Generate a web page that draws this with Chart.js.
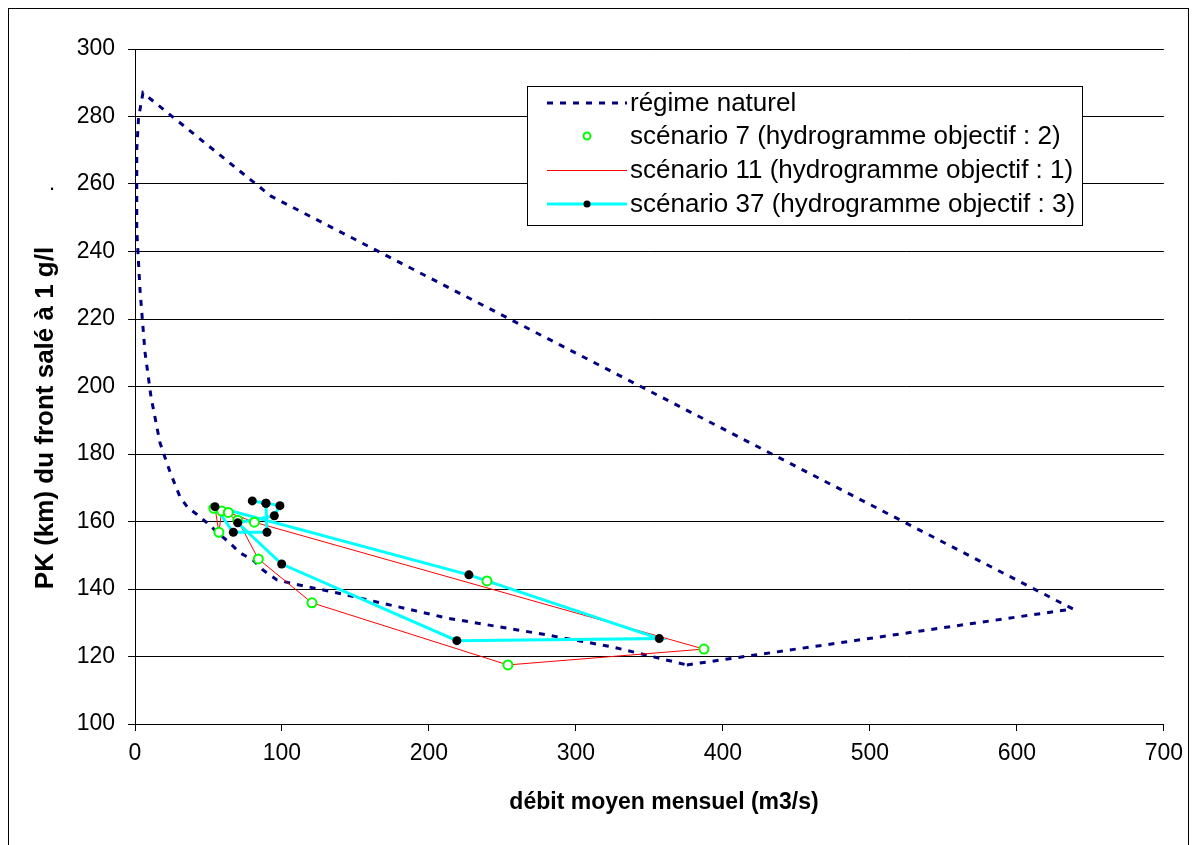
<!DOCTYPE html>
<html>
<head>
<meta charset="utf-8">
<script src="https://cdn.jsdelivr.net/npm/chart.js@4/dist/chart.umd.min.js"></script>
<style>
  html, body { margin: 0; padding: 0; background: #fff; }
  #wrap { width: 1192px; height: 845px; }
</style>
</head>
<body>
<div id="wrap"><canvas id="chart" width="1192" height="845"></canvas></div>
<script>
// régime naturel (boucle)
var naturelX = [375.5, 638.1, 92.5, 5.4, 2.4, 1.2, 1.2, 3.4, 6.8, 10.9, 17.0, 23.8, 30.6, 36.1, 42.2, 49.0, 56.5, 64.6, 71.4, 80.3, 87.1, 96.6, 105.4, 144.2, 212.2, 280.3, 325.2, 375.5];
var naturelY = [117.5, 134.1, 256.4, 287.0, 279.6, 270.1, 246.4, 228.6, 210.2, 196.9, 183.3, 174.7, 167.3, 164.0, 162.1, 159.6, 156.6, 153.6, 150.7, 148.6, 145.6, 142.7, 141.8, 138.2, 131.4, 126.4, 122.8, 117.5];

// scénario 7 (marqueurs seuls)
var sc7X = [53.6, 59.0, 63.5, 69.9, 81.2, 57.1, 83.9, 120.4, 239.5, 387.1, 253.7];
var sc7Y = [163.9, 163.1, 162.7, 160.4, 159.8, 156.8, 148.9, 135.9, 142.4, 122.2, 117.5];

// scénario 11 (trait seul)
var sc11X = [81.2, 387.1, 253.7, 120.4, 83.9, 69.9, 59.0, 57.1, 54.4, 63.5, 81.2];
var sc11Y = [159.8, 122.2, 117.5, 135.9, 148.9, 160.4, 163.1, 156.8, 164.2, 162.7, 159.8];

// scénario 37 (trait + marqueurs)
var sc37X = [79.8, 89.1, 98.6, 94.8, 69.9, 99.8, 219.0, 356.7, 227.2, 54.4, 66.9, 89.8, 89.1];
var sc37Y = [166.1, 165.4, 164.7, 161.7, 159.6, 147.4, 124.7, 125.3, 144.2, 164.4, 156.8, 156.8, 165.4];

var xTicks = [0, 100, 200, 300, 400, 500, 600, 700];
var yTicks = [100, 120, 140, 160, 180, 200, 220, 240, 260, 280, 300];

var seriesNames = [
  "régime naturel",
  "scénario 7 (hydrogramme objectif : 2)",
  "scénario 11 (hydrogramme objectif : 1)",
  "scénario 37 (hydrogramme objectif : 3)"
];

var FONT = "'Liberation Sans', Arial, sans-serif";

function pts(xs, ys) {
  return xs.map(function (x, i) { return { x: x, y: ys[i] }; });
}

var natColor = "#000080", redColor = "#ff0000", cyanColor = "#00ffff", greenColor = "#00ff00";
var natDash = [6, 7];

var decor = {
  id: "decor",
  afterDatasetsDraw: function (chart) {
    var c = chart.ctx;
    c.save();
    // cadre de la légende
    var lx = 527, ly = 86, lw = 555, lh = 139;
    c.fillStyle = "#fff";
    c.fillRect(lx, ly, lw, lh);
    c.strokeStyle = "#000";
    c.lineWidth = 1;
    c.strokeRect(lx + 0.5, ly + 0.5, lw, lh);

    var rows = [103, 136, 170, 204];
    var s0 = 547, s1 = 627, mid = 587;
    c.lineCap = "butt";

    // régime naturel
    c.beginPath();
    c.setLineDash(natDash);
    c.strokeStyle = natColor; c.lineWidth = 3;
    c.moveTo(s0, rows[0]); c.lineTo(s1, rows[0]); c.stroke();
    c.setLineDash([]);

    // scénario 7
    c.beginPath();
    c.arc(mid, rows[1], 3.5, 0, Math.PI * 2);
    c.fillStyle = "#fff"; c.fill();
    c.strokeStyle = greenColor; c.lineWidth = 2; c.stroke();

    // scénario 11
    c.beginPath();
    c.strokeStyle = redColor; c.lineWidth = 1;
    c.moveTo(s0, rows[2] + 0.5); c.lineTo(s1, rows[2] + 0.5); c.stroke();

    // scénario 37
    c.beginPath();
    c.strokeStyle = cyanColor; c.lineWidth = 3;
    c.moveTo(s0, rows[3]); c.lineTo(s1, rows[3]); c.stroke();
    c.beginPath();
    c.arc(mid, rows[3], 3.5, 0, Math.PI * 2);
    c.fillStyle = "#000"; c.fill();

    c.fillStyle = "#000";
    c.font = "26px " + FONT;
    c.textAlign = "left";
    c.textBaseline = "middle";
    seriesNames.forEach(function (t, i) { c.fillText(t, 630, rows[i] + 1); });
    c.restore();
  },
  afterDraw: function (chart) {
    var c = chart.ctx;
    c.save();
    c.strokeStyle = "#000";
    c.lineWidth = 1;
    c.strokeRect(8.5, 8.5, 1180, 900);

    c.fillStyle = "#000";
    c.font = "bold 23px " + FONT;
    c.textAlign = "center";
    c.textBaseline = "middle";
    c.fillText("débit moyen mensuel (m3/s)", 664, 803);

    c.font = "bold 26px " + FONT;
    c.translate(46, 418);
    c.rotate(-Math.PI / 2);
    c.fillText("PK (km) du front salé à 1 g/l", 0, 0);
    c.restore();

    c.save();
    c.fillStyle = "#000";
    c.font = "22px " + FONT;
    c.textAlign = "center";
    c.fillText(".", 52, 190);
    c.restore();
  }
};

var ctx = document.getElementById("chart").getContext("2d");
var chart = new Chart(ctx, {
  type: "scatter",
  data: {
    datasets: [
      {
        label: seriesNames[3] + " pts",
        data: pts(sc37X, sc37Y),
        showLine: false,
        pointRadius: 4.5,
        pointBackgroundColor: "#000",
        pointBorderColor: "#000",
        pointBorderWidth: 0,
        order: 0
      },
      {
        label: seriesNames[1],
        data: pts(sc7X, sc7Y),
        showLine: false,
        pointRadius: 4.5,
        pointBackgroundColor: "#fff",
        pointBorderColor: greenColor,
        pointBorderWidth: 2,
        order: 1
      },
      {
        label: seriesNames[3],
        data: pts(sc37X, sc37Y),
        showLine: true,
        borderColor: cyanColor,
        borderWidth: 3,
        pointRadius: 0,
        tension: 0,
        order: 2
      },
      {
        label: seriesNames[2],
        data: pts(sc11X, sc11Y),
        showLine: true,
        borderColor: redColor,
        borderWidth: 1,
        pointRadius: 0,
        tension: 0,
        order: 3
      },
      {
        label: seriesNames[0],
        data: pts(naturelX, naturelY),
        showLine: true,
        borderColor: natColor,
        borderWidth: 3,
        borderDash: natDash,
        pointRadius: 0,
        tension: 0,
        order: 4
      }
    ]
  },
  options: {
    responsive: false,
    animation: false,
    layout: { padding: { left: 0, top: 49, right: 28, bottom: 0 } },
    plugins: {
      legend: { display: false },
      tooltip: { enabled: false }
    },
    scales: {
      x: {
        type: "linear",
        min: 0, max: 700,
        afterBuildTicks: function (s) { s.ticks = xTicks.map(function (v) { return { value: v }; }); },
        afterFit: function (s) { s.height = 121; },
        ticks: { color: "#000", font: { family: FONT, size: 23 }, padding: 9, maxRotation: 0 },
        grid: { drawOnChartArea: false, drawTicks: true, tickLength: 7, color: "#000" },
        border: { color: "#000", width: 1 }
      },
      y: {
        min: 100, max: 300,
        afterBuildTicks: function (s) { s.ticks = yTicks.map(function (v) { return { value: v }; }); },
        afterFit: function (s) { s.width = 135; },
        ticks: { color: "#000", font: { family: FONT, size: 23 }, padding: 13 },
        grid: { color: "#000", tickLength: 7, drawTicks: true },
        border: { color: "#000", width: 1 }
      }
    }
  },
  plugins: [decor]
});
</script>
</body>
</html>
